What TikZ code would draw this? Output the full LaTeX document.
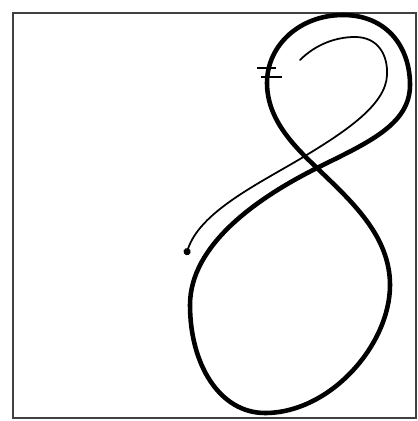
\documentclass[tikz,border=0pt]{standalone}
\usetikzlibrary{arrows.meta}
\begin{document}
\begin{tikzpicture}[x=0.02cm, y=-0.02cm,
    frame/.style={line width=1.2pt, color=black!75},
    eightline/.style={line width=2.6pt, line join=round},
    traceline/.style={line width=1.0pt, line cap=round}]
    \useasboundingbox (0,0) rectangle (417,421);
    \draw[frame] (13,13) rectangle (416,418);
    \coordinate (cross) at (317,168);
    \draw[eightline] (cross)
        .. controls (257,198) and (190,245) .. (190,305)
        .. controls (190,365) and (220,413) .. (265,413)
        .. controls (330,413) and (390,345) .. (390,285)
        .. controls (390,235) and (350,200) .. (cross)
        .. controls (295,147) and (267,120) .. (267,83)
        .. controls (267,45) and (300,15) .. (343,15)
        .. controls (385,15) and (410,45) .. (410,85)
        .. controls (410,125) and (367,143) .. (cross) -- cycle;
    \draw[traceline, -{Circle[length=4pt]}] (300,60)
        .. controls (315,45) and (335,37) .. (355,37)
        .. controls (378,37) and (388,55) .. (387,75)
        .. controls (386,105) and (345,132) .. (300,159)
        .. controls (258,184) and (200,212) .. (186,255);
    \draw[line width=0.8pt] (257,68) -- (276,68);
    \draw[line width=0.8pt] (261,77) -- (282,77);
\end{tikzpicture}
\end{document}
